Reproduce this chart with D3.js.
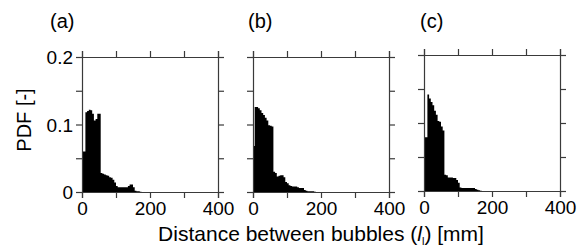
<!DOCTYPE html>
<html><head><meta charset="utf-8">
<script src="https://cdn.jsdelivr.net/npm/d3@7"></script>
<style>
html,body{margin:0;padding:0;background:#fff;}
text{font-family:"Liberation Sans",Arial,sans-serif;fill:#000;}
</style></head>
<body><svg id="chart" width="580" height="248"></svg>
<script>
// ---- data ----
const panelLabels = ["(a)", "(b)", "(c)"];
const binWidth = 5; // mm
const pdfA = [0.060,0.060,0.118,0.120,0.122,0.121,0.116,0.106,0.108,0.116,0.116,0.028,0.027,0.026,0.025,0.024,0.022,0.021,0.018,0.014,0.009,0.007,0.007,0.007,0.007,0.007,0.007,0.009,0.011,0.011,0.007,0.002,0.001,0.001,0.0005];
const pdfB = [0.068,0.126,0.126,0.124,0.121,0.117,0.114,0.110,0.106,0.099,0.098,0.097,0.030,0.028,0.023,0.024,0.025,0.025,0.022,0.015,0.013,0.010,0.009,0.008,0.008,0.008,0.007,0.006,0.006,0.006,0.003,0.002,0.001,0.001,0.001,0.001,0.0005];
const pdfC = [0.079,0.079,0.142,0.136,0.131,0.126,0.118,0.112,0.103,0.102,0.095,0.089,0.024,0.023,0.020,0.020,0.020,0.019,0.019,0.016,0.012,0.005,0.0045,0.0045,0.0045,0.0045,0.0045,0.0045,0.0045,0.0045,0.003,0.002,0.001,0.0005];
const xTicks = [0, 100, 200, 300, 400];
const xTickLabels = ["0", "", "200", "", "400"];
const yTicks = [0, 0.05, 0.1, 0.15, 0.2];
const yTickLabels = ["0", "", "0.1", "", "0.2"];
const xLabel = "Distance between bubbles";
const yLabel = "PDF [-]";

// ---- layout ----
const panels = [
  {label: panelLabels[0], data: pdfA, x0: 82,  x1: 218, y0: 57, y1: 192, lx: 50,  showY: true},
  {label: panelLabels[1], data: pdfB, x0: 253, x1: 389, y0: 57, y1: 192, lx: 248, showY: false},
  {label: panelLabels[2], data: pdfC, x0: 424, x1: 560, y0: 55, y1: 191, lx: 420, showY: false}
];
const tickLen = 6;
const axisColor = "#3a3a3a";
const tickFs = 19;

const svg = d3.select("#chart");

panels.forEach(p => {
  const x = d3.scaleLinear().domain([0, 400]).range([p.x0, p.x1]);
  const y = d3.scaleLinear().domain([0, 0.2]).range([p.y1, p.y0]);
  const g = svg.append("g");

  // histogram as a step area
  const pts = p.data.map((v, i) => ({x: i * binWidth, v}));
  pts.push({x: p.data.length * binWidth, v: p.data[p.data.length - 1]});
  const area = d3.area().curve(d3.curveStepAfter)
    .x(d => x(d.x)).y0(y(0)).y1(d => y(d.v));
  g.append("path").datum(pts).attr("d", area).attr("fill", "#000");

  // axes: all four sides, ticks outward
  const bottom = d3.axisBottom(x).tickValues(xTicks).tickSize(tickLen).tickFormat((d, i) => xTickLabels[i]);
  const top = d3.axisTop(x).tickValues(xTicks).tickSize(tickLen).tickFormat("");
  const left = d3.axisLeft(y).tickValues(yTicks).tickSize(tickLen).tickFormat((d, i) => p.showY ? yTickLabels[i] : "");
  const right = d3.axisRight(y).tickValues(yTicks).tickSize(tickLen).tickFormat("");

  const gb = g.append("g").attr("transform", `translate(0,${p.y1})`).call(bottom);
  const gt = g.append("g").attr("transform", `translate(0,${p.y0})`).call(top);
  const gl = g.append("g").attr("transform", `translate(${p.x0},0)`).call(left);
  const gr = g.append("g").attr("transform", `translate(${p.x1},0)`).call(right);
  [gb, gt, gl, gr].forEach(a => {
    a.select(".domain").attr("stroke", axisColor).attr("stroke-width", 1.2);
    a.selectAll(".tick line").attr("stroke", axisColor).attr("stroke-width", 1.2);
    a.selectAll(".tick text").attr("font-size", tickFs).attr("font-family", "Liberation Sans, Arial, sans-serif").attr("fill", "#000");
  });
  gb.selectAll(".tick text").attr("y", 23).attr("dy", 0);
  gl.selectAll(".tick text").attr("x", -9).attr("dy", "0.36em");

  // panel label
  svg.append("text").attr("x", p.lx).attr("y", 28).attr("font-size", 20).text(p.label);
});

// x-axis title with italic symbol
const xt = svg.append("text").attr("x", 321).attr("y", 241).attr("font-size", 21).attr("text-anchor", "middle");
xt.append("tspan").text(xLabel + " (");
xt.append("tspan").attr("font-style", "italic").text("l");
xt.append("tspan").attr("font-size", 11).attr("dy", 4).text("l");
xt.append("tspan").attr("dy", -4).text(") [mm]");

// y-axis title
svg.append("text").attr("transform", "translate(31,120) rotate(-90)")
  .attr("text-anchor", "middle").attr("font-size", 20).text(yLabel);
</script>
</body></html>
